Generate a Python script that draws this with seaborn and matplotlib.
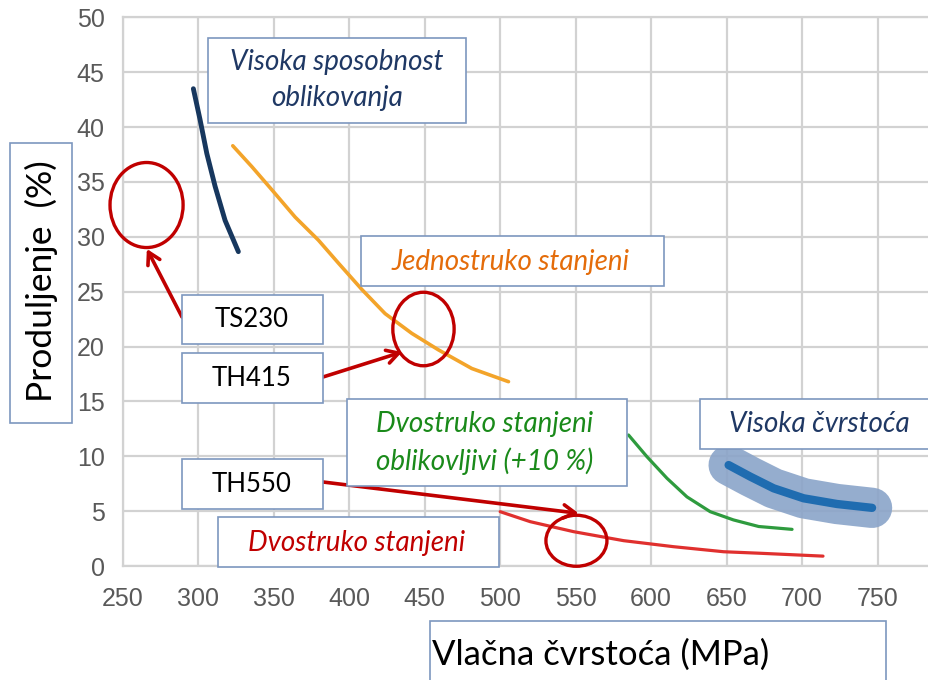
import numpy as np
import pandas as pd
import matplotlib.pyplot as plt
import seaborn as sns
from matplotlib.patches import Rectangle, Ellipse

# -------------------------------------------------
# DATA
# tensile strength (MPa) vs. elongation (%)
# -------------------------------------------------
formability_x = [296.8, 301.2, 305.7, 311.2, 317.8, 326.6]
formability_y = [43.5, 40.7, 37.6, 34.6, 31.5, 28.65]

single_x = [322.9, 335.5, 348.7, 364.2, 379.6, 392.9, 408.4, 423.8, 441.5, 459.1, 481.2, 505.5]
single_y = [38.3, 36.4, 34.3, 31.8, 29.7, 27.6, 25.2, 23.0, 21.2, 19.7, 18.0, 16.8]

double_form_x = [585, 597.2, 610.5, 623.7, 639.1, 654.5, 671.2, 693.3]
double_form_y = [11.94, 9.96, 7.99, 6.3, 4.95, 4.2, 3.6, 3.34]

double_x = [500, 519.9, 548.6, 581.7, 614.8, 648, 672.3, 713.8]
double_y = [4.95, 4.04, 3.13, 2.31, 1.76, 1.3, 1.16, 0.9]

strength_x = [651.3, 665.7, 681.1, 701, 723.1, 746.3]
strength_y = [9.2, 8.14, 7.08, 6.17, 5.65, 5.3]

x_ticks = [250, 300, 350, 400, 450, 500, 550, 600, 650, 700, 750]
y_ticks = [0, 5, 10, 15, 20, 25, 30, 35, 40, 45, 50]

# highlighted grades: label, circle centre (MPa, %), circle size (MPa, %)
grades = ["TS230", "TH415", "TH550"]
grade_centre = [(265.8, 32.9), (449.2, 21.6), (550.5, 2.3)]
grade_size = [(48.4, 7.75), (40.6, 6.7), (40.4, 4.65)]
grade_target = [(266, 28.9), (435, 19.5), (552, 4.8)]

# -------------------------------------------------
# FIGURE
# -------------------------------------------------
W, H = 929, 680
sns.set_theme(style="whitegrid")
plt.rcParams["font.family"] = ["Liberation Sans", "DejaVu Sans"]

fig = plt.figure(figsize=(W / 100, H / 100), dpi=100)
ax = fig.add_axes([122.7 / W, 1 - 566 / H, 1 - 122.7 / W, (566 - 17.4) / H])

GRID = "#d2d2d2"

def series(x, y):
    return pd.DataFrame({"x": x, "y": y})

sns.lineplot(data=series(strength_x, strength_y), x="x", y="y", ax=ax,
             color="#8aa4c9", lw=29, alpha=0.9, solid_capstyle="round")
sns.lineplot(data=series(strength_x, strength_y), x="x", y="y", ax=ax,
             color="#1f6cb0", lw=6, solid_capstyle="round")
sns.lineplot(data=series(formability_x, formability_y), x="x", y="y", ax=ax,
             color="#17375e", lw=3.5, solid_capstyle="round")
sns.lineplot(data=series(single_x, single_y), x="x", y="y", ax=ax,
             color="#f3a42a", lw=2.6, solid_capstyle="round")
sns.lineplot(data=series(double_form_x, double_form_y), x="x", y="y", ax=ax,
             color="#2e9b3e", lw=2.3, solid_capstyle="round")
sns.lineplot(data=series(double_x, double_y), x="x", y="y", ax=ax,
             color="#e0302e", lw=2.3, solid_capstyle="round")

ax.set_xlim(250, 784)
ax.set_ylim(0, 50)
ax.set_xticks(x_ticks)
ax.set_yticks(y_ticks)
ax.set_xlabel("")
ax.set_ylabel("")
ax.grid(True, color=GRID, lw=1.6)
for side in ["left", "bottom", "top"]:
    ax.spines[side].set_color(GRID)
    ax.spines[side].set_linewidth(1.6)
ax.spines["right"].set_visible(False)
ax.tick_params(axis="both", length=0, labelsize=18, labelcolor="#595959")
ax.tick_params(axis="y", pad=13)
ax.tick_params(axis="x", pad=15)

# circles + arrows for the highlighted grades
RED = "#c00000"
box_tail = [(182, 317), (323, 377), (323, 482)]
for (cx, cy), (w, h), tgt, tail in zip(grade_centre, grade_size, grade_target, box_tail):
    ax.add_patch(Ellipse((cx, cy), w, h, fill=False, ec=RED, lw=2.4,
                         zorder=5, clip_on=False))
    ax.annotate("", xy=tgt, xycoords="data",
                xytext=(tail[0], H - tail[1]), textcoords="figure pixels",
                arrowprops=dict(arrowstyle="->,head_length=0.7,head_width=0.4",
                                color=RED, lw=2.6, shrinkA=0, shrinkB=0),
                zorder=6)

# -------------------------------------------------
# TEXT BOXES (positions in image pixels)
# -------------------------------------------------
EDGE = "#7d97bf"
LABEL_FONT = ["Lato", "DejaVu Sans"]

def box(x0, y0, x1, y1):
    fig.add_artist(Rectangle((x0 / W, 1 - y1 / H), (x1 - x0) / W, (y1 - y0) / H,
                             transform=fig.transFigure, fc="white", ec=EDGE,
                             lw=1.2, zorder=2))

def label(x, y, s, color, size=20, italic=True, ha="center", rot=0):
    fig.text(x / W, 1 - y / H, s, color=color, fontsize=size, ha=ha, va="center",
             style="italic" if italic else "normal", family=LABEL_FONT,
             rotation=rot, linespacing=1.45, zorder=3)

box(208, 38, 466, 123)
label(337, 80, "Visoka sposobnost\noblikovanja", "#1f3864")

box(361, 236, 664, 286)
label(511, 262, "Jednostruko stanjeni", "#e46c0a")

box(347, 399, 627, 486)
label(485, 443, "Dvostruko stanjeni\noblikovljivi (+10 %)", "#1a8a1a")

box(218, 517, 499, 567)
label(357, 543, "Dvostruko stanjeni", RED)

box(700, 399, 935, 449)
label(729, 424, "Visoka čvrstoća", "#1f3864", ha="left")

for name, (y0, y1) in zip(grades, [(295, 344), (353, 403), (459, 509)]):
    box(182, y0, 323, y1)
    label(252, (y0 + y1) / 2, name, "black", size=18.5, italic=False)

# axis titles in boxes
box(10, 143, 72, 423)
label(41, 281, "Produljenje  (%)", "black", size=25.5, italic=False, rot=90)

box(430, 621, 886, 690)
label(432, 655, "Vlačna čvrstoća (MPa)", "black", size=25, italic=False, ha="left")

fig.savefig("out.png", dpi=100)
